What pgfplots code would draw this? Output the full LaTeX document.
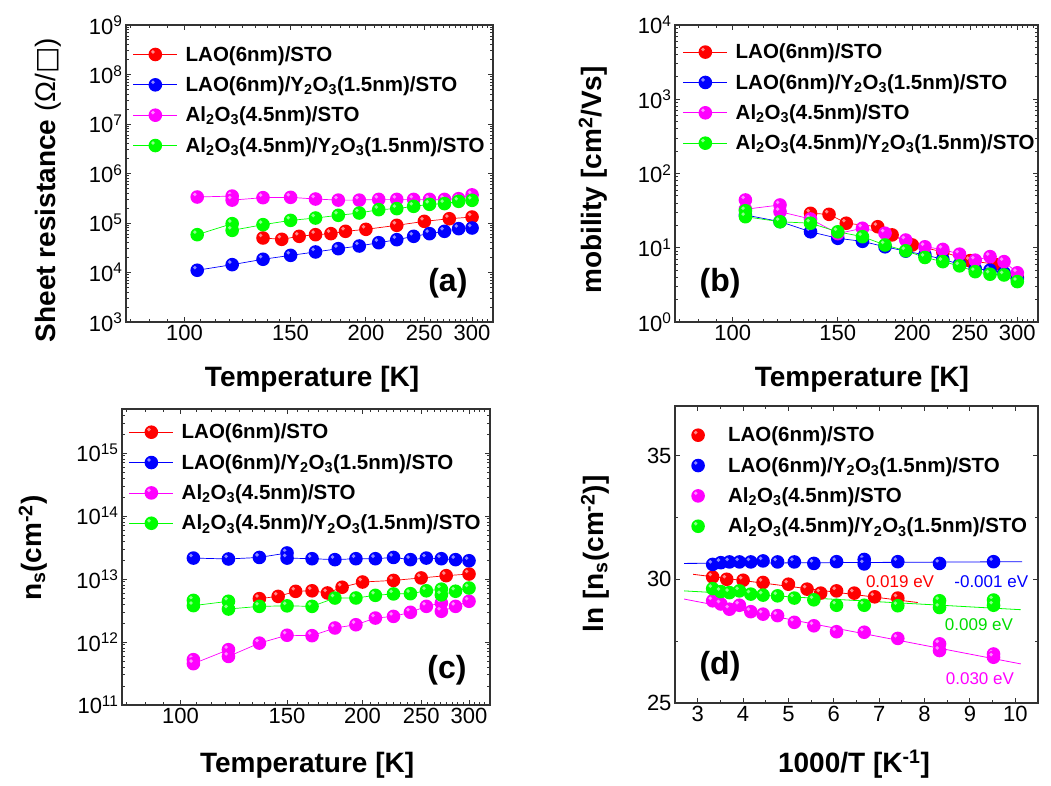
\documentclass[border=0pt]{standalone}
\usepackage{pgfplots}
\pgfplotsset{compat=1.18}
\usepackage{fontspec}
\setmainfont{Liberation Sans}
\newfontfamily\dejavu{DejaVu Sans}
\usetikzlibrary{plotmarks}

\definecolor{cR}{RGB}{255,0,0}
\definecolor{cB}{RGB}{0,0,255}
\definecolor{cM}{RGB}{255,0,255}
\definecolor{cG}{RGB}{0,255,0}
\definecolor{cGt}{RGB}{0,220,0}

\newcommand\sbs[1]{\textsubscript{#1}}
\newcommand\sps[1]{\textsuperscript{#1}}

\pgfdeclareplotmark{sph}{%
  \pgfpathcircle{\pgfpointorigin}{\pgfplotmarksize}\pgfusepathqfill
  \begin{pgfscope}
    \pgfsetfillcolor{white}\pgfsetfillopacity{0.55}%
    \pgfpathcircle{\pgfpoint{-0.35\pgfplotmarksize}{0.38\pgfplotmarksize}}{0.28\pgfplotmarksize}\pgfusepathqfill
  \end{pgfscope}
}

\tikzset{panelnode/.style={font=\fontsize{32}{36}\selectfont\bfseries}}
\pgfplotsset{
  log number format basis/.code 2 args={#1\textsuperscript{\pgfmathprintnumber{#2}}},
  legend image code/.code={\draw[mark repeat=2,mark phase=2,#1] plot coordinates {(0pt,0pt) (22pt,0pt) (44pt,0pt)}; \path (50pt,0pt);},
  dleg/.style={legend image code/.code={\draw[##1] plot[only marks] coordinates {(22pt,0pt)}; \path (0pt,0pt) (50pt,0pt);}},
  every axis/.append style={
    scale only axis,
    axis line style={line width=1.2pt, black!80},
    every tick/.style={black!80, line width=0.9pt},
    major tick length=5pt, minor tick length=3pt,
    tick align=inside,
    tick label style={font=\fontsize{22}{26}\selectfont},
    label style={font=\fontsize{28}{32}\selectfont\bfseries},
    /pgf/number format/assume math mode=true,
    legend cell align=left,
    legend style={draw=none, fill=none, inner sep=0pt, outer sep=0pt,
      font=\fontsize{20.5}{24}\selectfont\bfseries, row sep=10pt},
  },
  sred/.style={color=cR, line width=0.7pt, mark=sph, mark size=6.8pt},
  sblue/.style={color=cB, line width=0.7pt, mark=sph, mark size=6.8pt},
  smag/.style={color=cM, line width=0.7pt, mark=sph, mark size=6.8pt},
  sgreen/.style={color=cG, line width=0.7pt, mark=sph, mark size=6.8pt},
}
\newcommand\legR{\addlegendentry{LAO(6nm)/STO}}
\newcommand\legB{\addlegendentry{LAO(6nm)/Y\sbs{2}O\sbs{3}(1.5nm)/STO}}
\newcommand\legM{\addlegendentry{Al\sbs{2}O\sbs{3}(4.5nm)/STO}}
\newcommand\legG{\addlegendentry{Al\sbs{2}O\sbs{3}(4.5nm)/Y\sbs{2}O\sbs{3}(1.5nm)/STO}}

\begin{document}
\begin{tikzpicture}
\useasboundingbox (0pt,0pt) rectangle (1051pt,-786pt);

% ---------------- (a)
\begin{axis}[at={(126pt,-322pt)}, anchor=south west, width=367pt, height=297pt,
  xmode=log, ymode=log, xmin=80, xmax=325, ymin=1e3, ymax=1e9,
  xtick={100,150,200,250,300}, xticklabels={100,150,200,250,300},
  minor xtick={81.25,87.5,93.75,106.25,112.5,118.75,125,131.25,137.5,143.75,156.25,162.5,168.75,175,181.25,187.5,193.75,206.25,212.5,218.75,225,231.25,237.5,243.75,256.25,262.5,268.75,275,281.25,287.5,293.75,306.25,312.5,318.75},
  ytick={1e3,1e4,1e5,1e6,1e7,1e8,1e9},
  minor ytick={2e3,3e3,4e3,5e3,6e3,7e3,8e3,9e3,2e4,3e4,4e4,5e4,6e4,7e4,8e4,9e4,2e5,3e5,4e5,5e5,6e5,7e5,8e5,9e5,2e6,3e6,4e6,5e6,6e6,7e6,8e6,9e6,2e7,3e7,4e7,5e7,6e7,7e7,8e7,9e7,2e8,3e8,4e8,5e8,6e8,7e8,8e8,9e8},
  xlabel={Temperature [K]},
  ylabel={Sheet resistance {\mdseries(Ω/{\dejavu □})}},
  xlabel style={at={(axis description cs:0.507,-0.192)}, anchor=center},
  ylabel style={at={(axis description cs:-0.2125,0.444)}, anchor=center},
  legend style={at={(axis description cs:0.019,0.935)}, anchor=north west},
]
\addplot[sred] coordinates {(135,4.98e4)(145,4.68e4)(155,5.38e4)(165,5.81e4)(175,6.09e4)(185,6.79e4)(200,7.45e4)(225,8.97e4)(250,1.08e5)(275,1.22e5)(300,1.32e5)}; \legR
\addplot[sblue] coordinates {(105,1.11e4)(120,1.44e4)(135,1.85e4)(150,2.22e4)(165,2.6e4)(180,3.03e4)(195,3.43e4)(210,4.0e4)(225,4.6e4)(240,5.38e4)(255,6.09e4)(270,6.79e4)(285,7.69e4)(300,7.93e4)}; \legB
\addplot[smag] coordinates {(105,3.35e5)(120,3.5e5)(120,2.9e5)(135,3.25e5)(150,3.3e5)(165,3.05e5)(180,2.9e5)(195,2.9e5)(210,3.0e5)(225,3.0e5)(240,3.0e5)(255,3.0e5)(270,3.0e5)(285,3.1e5)(300,3.7e5)}; \legM
\addplot[sgreen] coordinates {(105,5.81e4)(120,9.7e4)(120,7.1e4)(135,9.25e4)(150,1.13e5)(165,1.26e5)(180,1.43e5)(195,1.59e5)(210,1.86e5)(225,1.95e5)(240,2.17e5)(255,2.38e5)(270,2.46e5)(285,2.74e5)(300,2.87e5)}; \legG
\node[panelnode] at (axis description cs:0.877,0.131) {(a)};
\end{axis}

% ---------------- (b)
\begin{axis}[at={(675pt,-322pt)}, anchor=south west, width=363pt, height=297pt,
  xmode=log, ymode=log, xmin=80, xmax=325, ymin=1, ymax=1e4,
  xtick={100,150,200,250,300}, xticklabels={100,150,200,250,300},
  minor xtick={81.25,87.5,93.75,106.25,112.5,118.75,125,131.25,137.5,143.75,156.25,162.5,168.75,175,181.25,187.5,193.75,206.25,212.5,218.75,225,231.25,237.5,243.75,256.25,262.5,268.75,275,281.25,287.5,293.75,306.25,312.5,318.75},
  ytick={1,10,100,1000,10000},
  minor ytick={2,3,4,5,6,7,8,9,20,30,40,50,60,70,80,90,200,300,400,500,600,700,800,900,2000,3000,4000,5000,6000,7000,8000,9000},
  xlabel={Temperature [K]},
  ylabel={mobility [cm\sps{2}/Vs]},
  xlabel style={at={(axis description cs:0.515,-0.192)}, anchor=center},
  ylabel style={at={(axis description cs:-0.226,0.478)}, anchor=center},
  legend style={at={(axis description cs:0.022,0.943)}, anchor=north west},
]
\addplot[sred] coordinates {(135,29.1)(145,28.2)(155,21.4)(175,19.2)(185,14.9)(200,10.9)(225,8.8)(250,6.7)(275,6.0)(300,4.0)}; \legR
\addplot[sblue] coordinates {(105,27.6)(120,22.5)(135,16.4)(150,13.4)(165,12.2)(180,10.3)(195,9.0)(210,8.0)(225,7.0)(240,6.0)(255,5.2)(270,5.0)(285,4.6)(300,3.8)}; \legB
\addplot[smag] coordinates {(105,44)(105,33)(120,37.7)(120,30.6)(135,24.4)(150,15.5)(165,18.3)(180,15.7)(195,12.7)(210,10.3)(225,9.5)(240,8.2)(255,6.8)(270,7.6)(285,6.5)(300,4.6)}; \legM
\addplot[sgreen] coordinates {(105,31.5)(105,26.2)(120,22.4)(135,21.4)(150,16.4)(165,14.1)(180,10.9)(195,9.1)(210,7.4)(225,6.5)(240,5.7)(255,4.76)(270,4.4)(285,4.3)(300,3.5)}; \legG
\node[panelnode] at (axis description cs:0.124,0.131) {(b)};
\end{axis}

% ---------------- (c)
\begin{axis}[at={(122pt,-705pt)}, anchor=south west, width=368pt, height=296pt,
  xmode=log, ymode=log, xmin=80, xmax=325, ymin=1e11, ymax=5e15,
  xtick={100,150,200,250,300}, xticklabels={100,150,200,250,300},
  minor xtick={81.25,87.5,93.75,106.25,112.5,118.75,125,131.25,137.5,143.75,156.25,162.5,168.75,175,181.25,187.5,193.75,206.25,212.5,218.75,225,231.25,237.5,243.75,256.25,262.5,268.75,275,281.25,287.5,293.75,306.25,312.5,318.75},
  ytick={1e11,1e12,1e13,1e14,1e15},
  minor ytick={2e11,3e11,4e11,5e11,6e11,7e11,8e11,9e11,2e12,3e12,4e12,5e12,6e12,7e12,8e12,9e12,2e13,3e13,4e13,5e13,6e13,7e13,8e13,9e13,2e14,3e14,4e14,5e14,6e14,7e14,8e14,9e14,2e15,3e15,4e15},
  xlabel={Temperature [K]},
  ylabel={n\sbs{s}(cm\sps{-2})},
  xlabel style={at={(axis description cs:0.503,-0.203)}, anchor=center},
  ylabel style={at={(axis description cs:-0.242,0.53)}, anchor=center},
  legend style={at={(axis description cs:0.019,0.956)}, anchor=north west},
]
\addplot[sred] coordinates {(135,4.88e12)(145,5.3e12)(155,6.37e12)(165,6.5e12)(175,6.0e12)(185,7.4e12)(200,8.96e12)(225,9.5e12)(250,1.04e13)(275,1.13e13)(300,1.2e13)}; \legR
\addplot[sblue] coordinates {(105,2.15e13)(120,2.08e13)(135,2.2e13)(150,2.59e13)(150,2.15e13)(165,2.1e13)(180,2.03e13)(195,2.1e13)(210,2.1e13)(225,2.2e13)(240,2.03e13)(255,2.15e13)(270,2.1e13)(285,2.03e13)(300,1.95e13)}; \legB
\addplot[smag] coordinates {(105,5.25e11)(105,4.53e11)(120,7.55e11)(120,5.9e11)(135,9.6e11)(150,1.28e12)(165,1.26e12)(180,1.67e12)(195,1.88e12)(210,2.4e12)(225,2.55e12)(240,2.96e12)(255,3.68e12)(270,4.16e12)(270,3.07e12)(285,3.68e12)(300,4.43e12)}; \legM
\addplot[sgreen] coordinates {(105,4.58e12)(105,3.78e12)(120,4.43e12)(120,3.34e12)(135,3.68e12)(150,3.75e12)(165,3.68e12)(180,4.99e12)(195,5.0e12)(210,5.5e12)(225,5.8e12)(240,5.85e12)(255,6.5e12)(270,6.9e12)(270,5.6e12)(285,6.4e12)(300,7.2e12)}; \legG
\node[panelnode] at (axis description cs:0.883,0.118) {(c)};
\end{axis}

% ---------------- (d)
\begin{axis}[at={(675pt,-703pt)}, anchor=south west, width=363pt, height=297pt,
  dleg,
  xmin=2.5, xmax=10.5, ymin=25, ymax=37,
  xtick={3,4,5,6,7,8,9,10}, minor xtick={3.5,4.5,5.5,6.5,7.5,8.5,9.5},
  ytick={25,30,35}, minor ytick={27.5,32.5},
  xlabel={1000/T [K\sps{-1}]},
  ylabel={ln [n\sbs{s}(cm\sps{-2})]},
  xlabel style={at={(axis description cs:0.493,-0.205)}, anchor=center},
  ylabel style={at={(axis description cs:-0.22,0.502)}, anchor=center},
  legend style={at={(axis description cs:0.003,0.936)}, anchor=north west},
]
\addplot[sred, draw=none] coordinates {(3.33,30.09)(3.64,30.0)(4.0,29.96)(4.44,29.87)(5.0,29.80)(5.41,29.60)(5.71,29.44)(6.06,29.53)(6.45,29.44)(6.90,29.29)(7.41,29.24)}; \legR
\addplot[sblue, draw=none] coordinates {(3.33,30.60)(3.51,30.67)(3.70,30.70)(3.92,30.70)(4.17,30.70)(4.44,30.74)(4.76,30.70)(5.13,30.70)(5.56,30.64)(6.06,30.71)(6.67,30.80)(6.67,30.62)(7.41,30.71)(8.33,30.64)(9.52,30.71)}; \legB
\addplot[smag, draw=none] coordinates {(3.33,29.13)(3.51,29.0)(3.70,28.79)(3.92,28.95)(4.17,28.69)(4.44,28.59)(4.76,28.53)(5.13,28.26)(5.56,28.12)(6.06,27.88)(6.67,27.86)(7.41,27.61)(8.33,27.39)(8.33,27.12)(9.52,26.98)(9.52,26.85)}; \legM
\addplot[sgreen, draw=none] coordinates {(3.33,29.62)(3.51,29.50)(3.70,29.46)(3.92,29.53)(4.17,29.40)(4.44,29.36)(4.76,29.33)(5.13,29.24)(5.56,29.17)(6.06,28.95)(6.67,28.95)(7.41,28.93)(8.33,29.13)(8.33,28.86)(9.52,29.16)(9.52,28.95)}; \legG
\addplot[cR, line width=0.8pt, forget plot] coordinates {(2.9,30.2)(7.85,29.06)};
\addplot[cB, line width=0.8pt, forget plot] coordinates {(2.7,30.64)(10.15,30.71)};
\addplot[cG, line width=0.8pt, forget plot] coordinates {(2.7,29.53)(10.12,28.77)};
\addplot[cM, line width=0.8pt, forget plot] coordinates {(2.7,29.2)(10.12,26.58)};
\node[cR, font=\fontsize{17}{20}\selectfont] at (axis cs:7.46,29.9) {0.019 eV};
\node[cB, font=\fontsize{17}{20}\selectfont] at (axis cs:9.47,29.9) {-0.001 eV};
\node[cGt, font=\fontsize{17}{20}\selectfont] at (axis cs:9.2,28.15) {0.009 eV};
\node[cM, font=\fontsize{17}{20}\selectfont] at (axis cs:9.22,25.98) {0.030 eV};
\node[panelnode] at (axis description cs:0.124,0.125) {(d)};
\end{axis}
\end{tikzpicture}
\end{document}
